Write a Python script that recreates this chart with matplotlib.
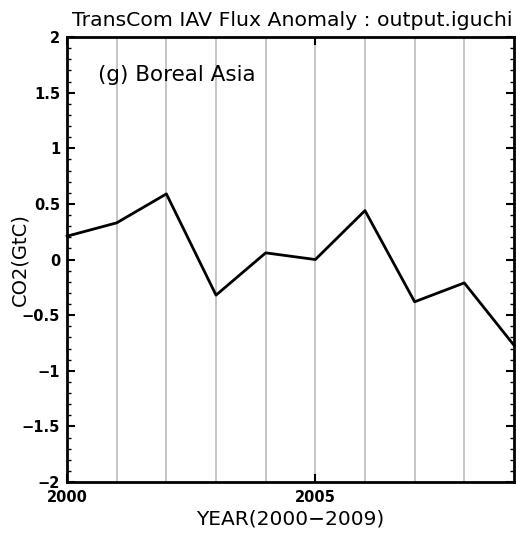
import matplotlib
matplotlib.use("Agg")
import matplotlib.pyplot as plt
from matplotlib.ticker import MultipleLocator

# data
years = [2000, 2001, 2002, 2003, 2004, 2005, 2006, 2007, 2008, 2009]
flux = [0.21, 0.33, 0.59, -0.32, 0.06, 0.0, 0.44, -0.38, -0.21, -0.77]
xtick_pos = [2000, 2005]
xtick_lab = ["2000", "2005"]
ytick_pos = [-2, -1.5, -1, -0.5, 0, 0.5, 1, 1.5, 2]
ytick_lab = ["\u22122", "\u22121.5", "\u22121", "\u22120.5", "0", "0.5", "1", "1.5", "2"]

plt.rcParams["font.family"] = "DejaVu Sans"

fig = plt.figure(figsize=(5.16, 5.37), dpi=100)
ax = fig.add_axes([0.130, 0.1024, 0.866, 0.8286])

# gray year lines
for yr in years[1:-1]:
    ax.axvline(yr, color="#bbbbbb", lw=1.2, zorder=1)

ax.plot(years, flux, color="black", lw=2, zorder=3, clip_on=False)

ax.set_xlim(2000, 2009)
ax.set_ylim(-2, 2)
ax.set_xticks(xtick_pos)
ax.set_xticklabels(xtick_lab, fontweight="bold", fontsize=10.5)
ax.set_yticks(ytick_pos)
ax.set_yticklabels(ytick_lab, fontweight="bold", fontsize=10.5)
ax.yaxis.set_minor_locator(MultipleLocator(0.1))
ax.tick_params(axis="y", which="major", direction="in", length=6, width=1.5,
               left=True, right=True, pad=5)
ax.tick_params(axis="y", which="minor", direction="in", length=3, width=1,
               left=True, right=True)
ax.tick_params(axis="x", which="major", direction="in", length=6, width=1.5,
               top=True, bottom=True, pad=6)
for s in ax.spines.values():
    s.set_linewidth(2)

ax.set_title("TransCom IAV Flux Anomaly : output.iguchi", fontsize=14.7, pad=8, x=0.503)
ax.set_xlabel("YEAR(2000\u22122009)", fontsize=14.5, labelpad=3)
ax.set_ylabel("CO2(GtC)", fontsize=14)
ax.yaxis.set_label_coords(-0.085, 0.5)
ax.text(0.07, 0.915, "(g) Boreal Asia", transform=ax.transAxes, fontsize=15.5,
        va="center", ha="left")

fig.savefig("out.png", dpi=100)
